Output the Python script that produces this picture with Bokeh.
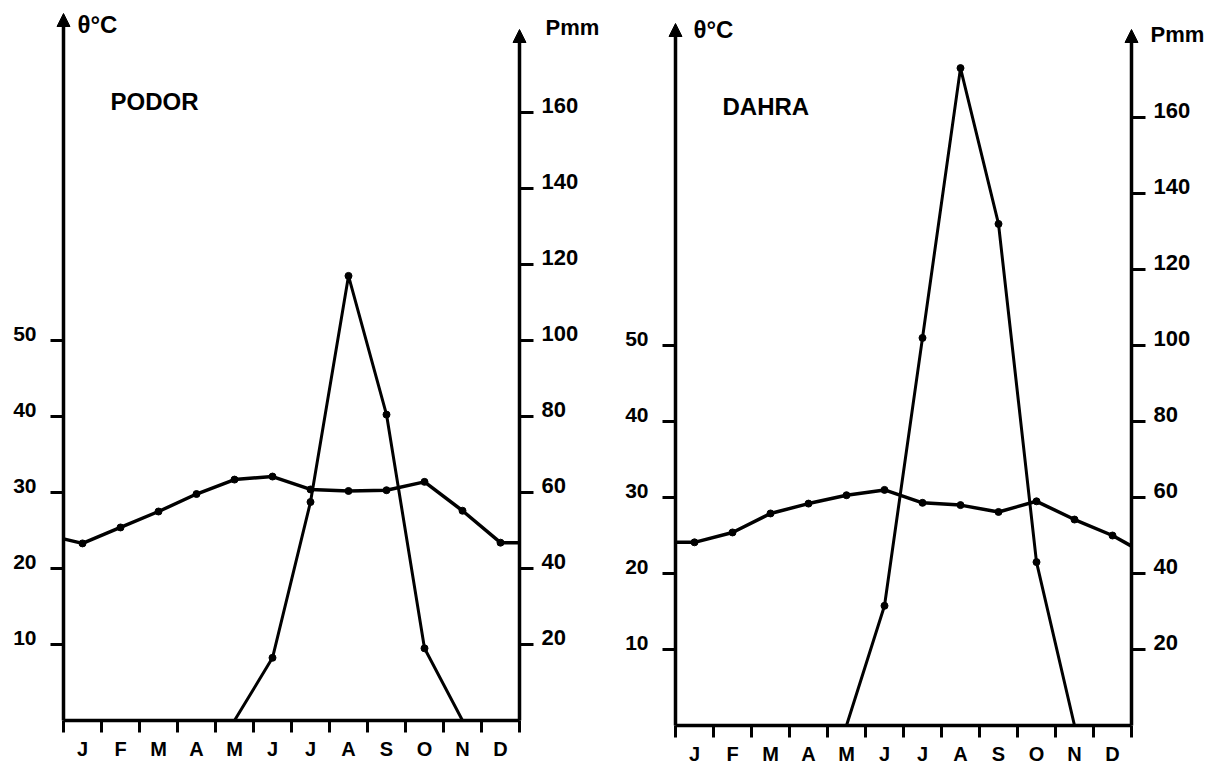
import numpy as np
from bokeh.plotting import figure
from bokeh.models import Range1d, Arrow, NormalHead, Label
from bokeh.core.properties import value
from bokeh.layouts import row
from bokeh.embed import file_html
from bokeh.resources import INLINE

# ---------------- data ----------------
months = ["J", "F", "M", "A", "M", "J", "J", "A", "S", "O", "N", "D"]
month_pos = list(range(1, 13))
month_bounds = [0.5 + i for i in range(13)]
temp_ticks = [10, 20, 30, 40, 50]
temp_tick_labels = [str(t) for t in temp_ticks]
rain_ticks = [20, 40, 60, 80, 100, 120, 140, 160]
rain_tick_labels = [str(t) for t in rain_ticks]

podor_temp = [23.3, 25.4, 27.5, 29.8, 31.7, 32.1, 30.4, 30.2, 30.3, 31.4, 27.6, 23.4]
podor_temp_edges = [23.9, 23.4]          # curve value at the January / December borders
podor_rain = [0, 0, 0, 0, 0, 16.5, 57.5, 117, 80.5, 19, 0, 0]

dahra_temp = [24.1, 25.4, 27.9, 29.2, 30.3, 31.0, 29.3, 29.0, 28.1, 29.5, 27.1, 25.0]
dahra_temp_edges = [24.1, 23.6]
dahra_rain = [0, 0, 0, 0, 0, 31.5, 102, 173, 132, 43, 0, 0]

# ---------------- layout constants (pixels) ----------------
FONT = "Liberation Sans"
FIG_W, FIG_H = 610, 765
PAGE_TOP = 0
PX_MONTH = 38.0        # pixels per month
PX_MM = 3.8            # pixels per mm of rain (1 degC = 2 mm)
BLACK = "black"


def panel(name, temp, edges, rain, page_x0, ax_left, zero_y, tips, texts):
    """page_x0: page x of the figure; ax_left: page x of the temperature axis;
    zero_y: page y of the baseline; tips / texts in page pixels."""
    def to_data(xp, yp):
        return 0.5 + (xp - ax_left) / PX_MONTH, (zero_y - yp) / PX_MM

    x0 = 0.5 - (ax_left - page_x0) / PX_MONTH
    x1 = x0 + FIG_W / PX_MONTH
    y0 = -(PAGE_TOP + FIG_H - zero_y) / PX_MM
    y1 = y0 + FIG_H / PX_MM

    p = figure(width=FIG_W, height=FIG_H, output_backend="svg", toolbar_location=None,
               x_range=Range1d(x0, x1), y_range=Range1d(y0, y1),
               x_axis_location=None, y_axis_location=None, title=None,
               min_border=0)
    p.extra_y_ranges = {"temp": Range1d(y0 / 2.0, y1 / 2.0)}
    p.grid.visible = False
    p.outline_line_color = None
    p.background_fill_color = "white"
    p.border_fill_color = "white"

    xl, xr = month_bounds[0], month_bounds[-1]

    # axes: baseline and the two vertical axes with arrow heads
    p.line([xl, xr], [0, 0], line_width=3.5, line_color=BLACK)
    for xx, tip in ((xl, tips[0]), (xr, tips[1])):
        p.add_layout(Arrow(x_start=xx, y_start=0, x_end=xx, y_end=to_data(0, tip)[1],
                           line_width=3.5, line_color=BLACK,
                           end=NormalHead(size=13, fill_color=BLACK,
                                          line_color=BLACK, line_width=1)))

    # month ticks and labels
    p.ray(x=month_bounds, y=[0] * len(month_bounds), length=12, length_units="screen",
          angle=-np.pi / 2, line_width=3, line_color=BLACK)
    p.text(x=month_pos, y=[0] * 12, text=months, y_offset=28,
           text_align="center", text_baseline="middle",
           text_font=value(FONT), text_font_style=value("bold"),
           text_font_size=value("20px"), text_color=BLACK)

    # temperature axis ticks (left)
    p.ray(x=[xl] * len(temp_ticks), y=temp_ticks, y_range_name="temp", length=13,
          length_units="screen", angle=np.pi, line_width=3, line_color=BLACK)
    p.text(x=[xl] * len(temp_ticks), y=temp_ticks, text=temp_tick_labels,
           y_range_name="temp", x_offset=-27, y_offset=-7,
           text_align="right", text_baseline="middle",
           text_font=value(FONT), text_font_style=value("bold"),
           text_font_size=value("21px"), text_color=BLACK)

    # rainfall axis ticks (right)
    p.ray(x=[xr] * len(rain_ticks), y=rain_ticks, length=14, length_units="screen",
          angle=0, line_width=3, line_color=BLACK)
    p.text(x=[xr] * len(rain_ticks), y=rain_ticks, text=rain_tick_labels,
           x_offset=22, y_offset=-7, text_align="left", text_baseline="middle",
           text_font=value(FONT), text_font_style=value("bold"),
           text_font_size=value("22px"), text_color=BLACK)

    # temperature curve
    tx = [xl] + month_pos + [xr]
    ty = [edges[0]] + temp + [edges[1]]
    p.line(tx, ty, y_range_name="temp", line_width=3.5, line_color=BLACK)
    p.scatter(month_pos, temp, y_range_name="temp", size=7,
              fill_color=BLACK, line_color=BLACK)

    # rainfall curve (from the last dry month to the first dry month)
    wet = [i for i, v in enumerate(rain) if v > 0]
    i0, i1 = max(wet[0] - 1, 0), min(wet[-1] + 1, 11)
    p.line(month_pos[i0:i1 + 1], rain[i0:i1 + 1], line_width=3, line_color=BLACK)
    p.scatter([month_pos[i] for i in wet], [rain[i] for i in wet], size=7,
              fill_color=BLACK, line_color=BLACK)

    # texts
    for txt, (xp, yp), fs in (("θ°C", texts[0], "24px"),
                              (name, texts[1], "24px"),
                              ("Pmm", texts[2], "22px")):
        tx_, ty_ = to_data(xp, yp)
        p.add_layout(Label(x=tx_, y=ty_, text=txt, text_font=FONT,
                           text_font_style="bold", text_font_size=fs,
                           text_baseline="middle", text_align="left",
                           text_color=BLACK))
    return p


p1 = panel("PODOR", podor_temp, podor_temp_edges, podor_rain,
           page_x0=0, ax_left=63, zero_y=720, tips=(13, 29),
           texts=((77, 24), (110, 101), (545, 27)))
p2 = panel("DAHRA", dahra_temp, dahra_temp_edges, dahra_rain,
           page_x0=610, ax_left=675, zero_y=725, tips=(23, 29),
           texts=((693, 29), (722, 106), (1150, 34)))

layout = row(p1, p2)
open("out.html", "w").write(file_html(layout, INLINE))
